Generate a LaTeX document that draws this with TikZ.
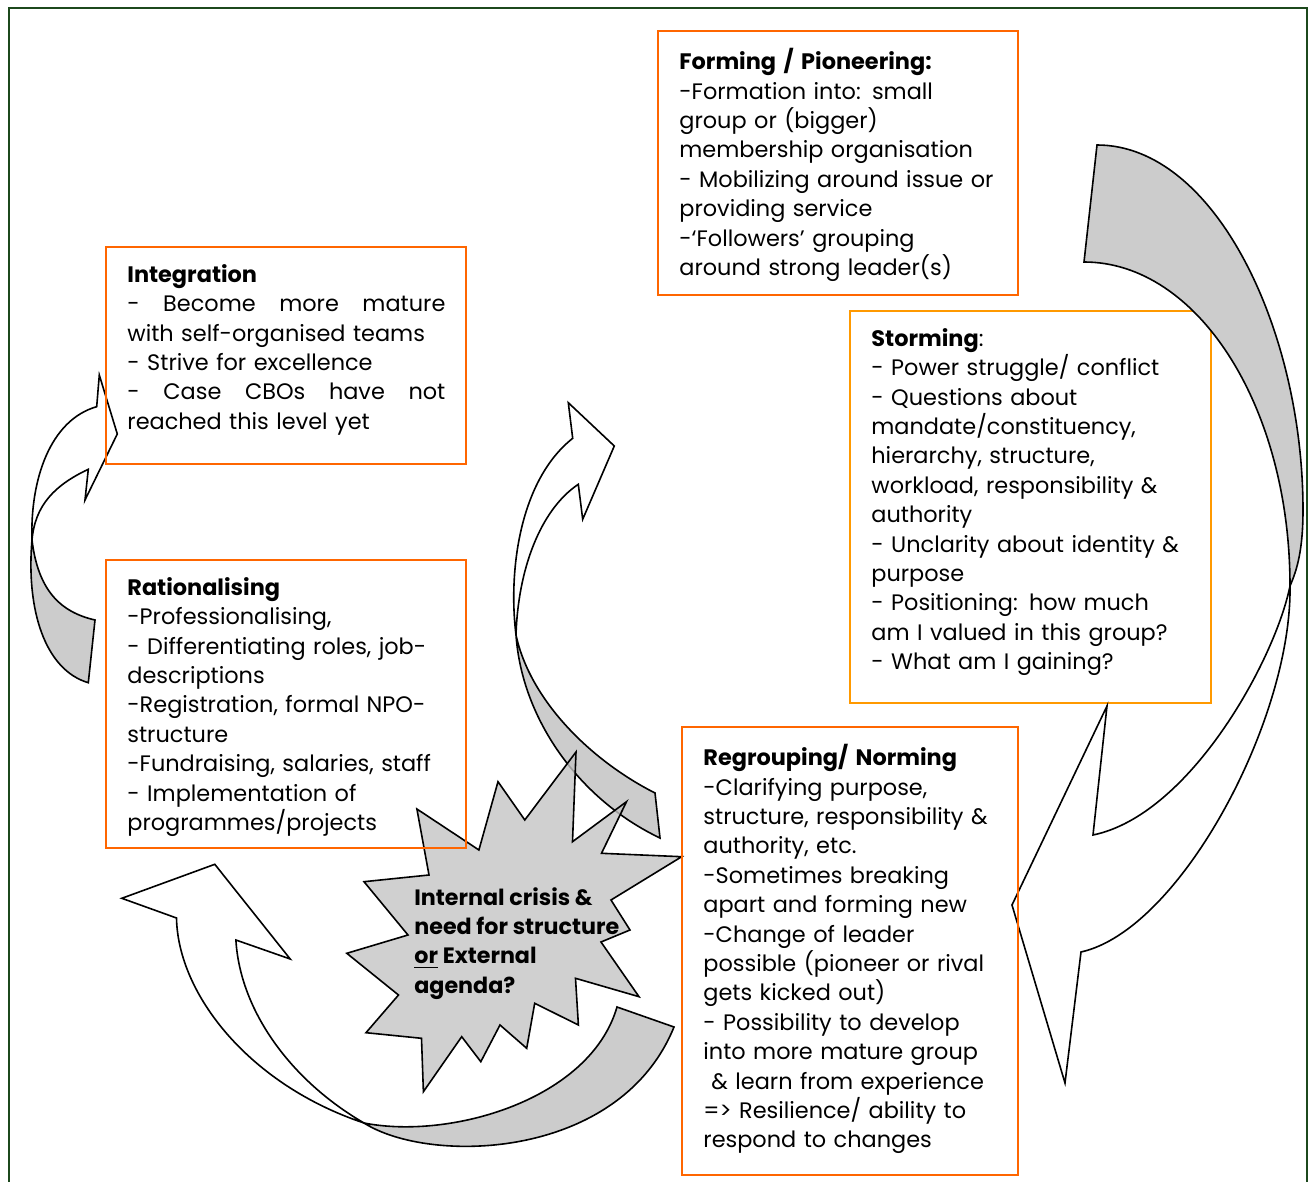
\documentclass[tikz,border=0pt]{standalone}
\usepackage{fontspec}
\setmainfont{Poppins}
\usepackage{tikz}
\usetikzlibrary{positioning}

\definecolor{framegreen}{RGB}{28,72,28}
\definecolor{stageorange}{RGB}{255,102,0}
\definecolor{stormorange}{RGB}{255,153,0}
\definecolor{backgray}{RGB}{204,204,204}
\definecolor{burstgray}{RGB}{196,196,196}

\newcommand{\spreadline}[1]{\makebox[159pt][l]{#1}}

\begin{document}
\begin{tikzpicture}[
    x=0.5pt, y=-0.5pt,
    stagetext/.style={anchor=north west, align=left, text width=200pt, inner xsep=10.5pt, inner ysep=8.5pt, font=\fontsize{11.2}{14.7}\selectfont},
    stageframe/.style={draw=stageorange, line width=1.3pt},
    backface/.style={draw, line width=0.8pt, fill=backgray},
    frontface/.style={draw, line width=0.8pt, fill=white},
    burst/.style={draw, line width=0.8pt, fill=burstgray, fill opacity=0.8},
    bursttext/.style={anchor=north west, align=left, inner sep=0pt, font=\fontsize{11.1}{14.7}\selectfont\bfseries}
]
\useasboundingbox (0,0) rectangle (1314,1182);

% outer frame
\draw[draw=framegreen, line width=1.4pt] (9,8) rectangle (1307,1200);

% left arrow: Rationalising -> Integration
\draw[backface] (32,540) .. controls (26,610) and (45,670) .. (88.3,682.7) -- (95,620) .. controls (60,612) and (38,590) .. (32,540) -- cycle;
\draw[frontface] (32,540) .. controls (30,480) and (50,420) .. (96.7,406.7) -- (99.3,375) -- (117.3,434) -- (85,500) -- (88.3,469.3) .. controls (55,485) and (35,505) .. (32,540) -- cycle;

% middle arrow: back up to Forming
\draw[backface] (516,635) .. controls (522,720) and (580,800) .. (660,838) -- (655,793) .. controls (590,760) and (530,700) .. (516,635) -- cycle;
\draw[frontface] (516,635) .. controls (508,570) and (520,480) .. (572.7,438.3) -- (568.3,402.7) -- (614.3,446) -- (582.7,519.3) -- (578.3,484.3) .. controls (540,510) and (518,570) .. (516,635) -- cycle;

% bottom arrow: Regrouping -> Rationalising
\draw[backface] (364,1123) .. controls (430,1165) and (620,1160) .. (674,1027) -- (617,1007) .. controls (590,1100) and (450,1140) .. (364,1123) -- cycle;
\draw[frontface] (364,1123) .. controls (250,1085) and (178,995) .. (176.5,918) -- (121.8,898.3) -- (214.8,864.3) -- (290.2,959) -- (235.9,940) .. controls (240,1010) and (290,1080) .. (364,1123) -- cycle;

% crisis
\draw[burst] (416.9,809) -- (478.9,850) -- (498,781.7) -- (524.8,820) -- (576,752) -- (572.5,841.7) -- (626.5,801.7) -- (601.5,853.3) -- (681.7,856.7) -- (611,900) -- (630,930) -- (601,942) -- (639,996.7) -- (575.5,978.3) -- (578.4,1025) -- (534.7,1003.3) -- (526.7,1048.3) -- (500,1025) -- (480.8,1061.7) -- (461.7,1036.7) -- (423.4,1091.7) -- (421.5,1038.3) -- (366,1032.7) -- (398.5,995) -- (346.8,953.3) -- (408,935) -- (364,881.7) -- (429,875) -- cycle;
\node[bursttext] (crisis) at (414,887) {Internal crisis \&\\need for structure\\\underline{or} External\\agenda?};

% Forming
\node[stagetext] (forming) at (658,31) {\textbf{Forming / Pioneering:}\\-Formation into: small\\group or (bigger)\\membership organisation\\- Mobilizing around issue or\\providing service\\-‘Followers’ grouping\\around strong leader(s)};
\draw[stageframe] (forming.north west) rectangle ++(360,264);

% Storming
\node[stagetext] (storming) at (850,311) {\textbf{Storming}:\\- Power struggle/ conflict\\- Questions about\\mandate/constituency,\\hierarchy, structure,\\workload, responsibility \&\\authority\\- Unclarity about identity \&\\purpose\\- Positioning: how much\\am I valued in this group?\\- What am I gaining?};
\draw[stageframe, draw=stormorange] (storming.north west) rectangle ++(361,392);

% right arrow: Forming -> Regrouping
\draw[backface] (1097,145) .. controls (1215,145) and (1303,330) .. (1303,510) .. controls (1303,550) and (1297,570) .. (1290,586) .. controls (1290,407) and (1198,262) .. (1084,262) -- cycle;
\draw[frontface] (1290,586) .. controls (1275,660) and (1190,815) .. (1093,835) -- (1107,706) -- (1012,905) -- (1065,1083) -- (1081,952) .. controls (1180,930) and (1292,720) .. (1290,586) -- cycle;

% Integration
\node[stagetext] (integration) at (106,247) {\textbf{Integration}\\\spreadline{-\hfill Become\hfill more\hfill mature}\\with self-organised teams\\- Strive for excellence\\\spreadline{-\hfill Case\hfill CBOs\hfill have\hfill not}\\reached this level yet};
\draw[stageframe] (integration.north west) rectangle ++(360,217);

% Rationalising
\node[stagetext] (rational) at (106,560) {\textbf{Rationalising}\\-Professionalising,\\- Differentiating roles, job-\\descriptions\\-Registration, formal NPO-\\structure\\-Fundraising, salaries, staff\\- Implementation of\\programmes/projects};
\draw[stageframe] (rational.north west) rectangle ++(360,288);

% Regrouping
\node[stagetext] (regroup) at (682,727) {\textbf{Regrouping/ Norming}\\-Clarifying purpose,\\structure, responsibility \&\\authority, etc.\\-Sometimes breaking\\apart and forming new\\-Change of leader\\possible (pioneer or rival\\gets kicked out)\\- Possibility to develop\\into more mature group\\\hspace*{4pt}\& learn from experience\\=> Resilience/ ability to\\respond to changes};
\draw[stageframe] (regroup.north west) rectangle ++(336,448);

\end{tikzpicture}
\end{document}
